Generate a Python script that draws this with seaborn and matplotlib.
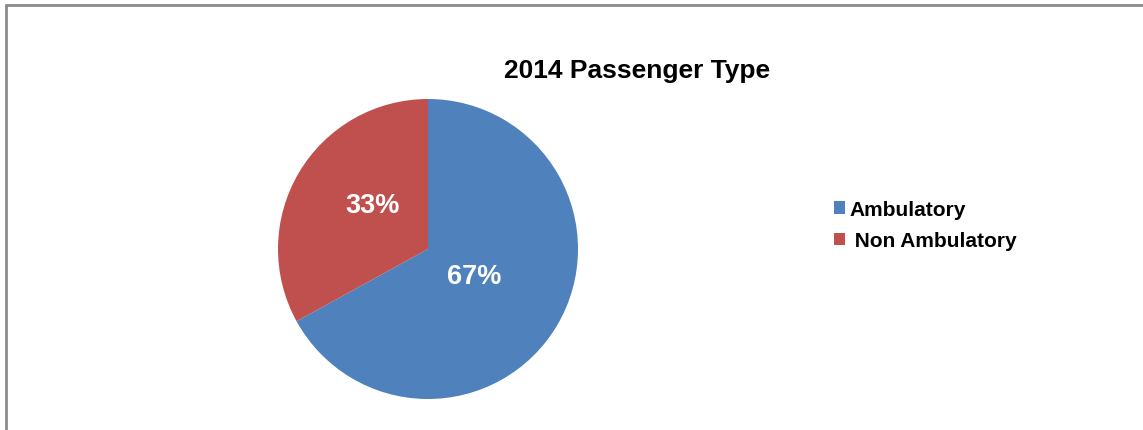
import matplotlib
matplotlib.use("Agg")
import matplotlib.pyplot as plt
import seaborn as sns

# chart data
categories = ["Ambulatory", " Non Ambulatory"]
shares = [67, 33]
colors = ["#4F81BD", "#C0504D"]
title = "2014 Passenger Type"

sns.set_theme(style="white")
plt.rcParams["font.family"] = ["Liberation Sans", "DejaVu Sans"]

fig = plt.figure(figsize=(11.43, 4.31), dpi=100)
fig.patch.set_facecolor("white")

# pie axes placed by pixel position of the reference
ax = fig.add_axes([278 / 1143, 31 / 431, 300 / 1143, 300 / 431])
wedges, texts, autotexts = ax.pie(
    shares,
    colors=colors,
    startangle=90,
    counterclock=False,
    autopct="%d%%",
    pctdistance=0.36,
    textprops=dict(color="white", fontsize=19.5, fontweight="bold"),
    wedgeprops=dict(linewidth=0),
)
autotexts[1].set_position((-0.37, 0.29))
ax.set_xlim(-1, 1)
ax.set_ylim(-1, 1)
ax.set_aspect("equal")

fig.text(637 / 1143, 1 - 71 / 431, title, ha="center", va="center",
         fontsize=19, fontweight="bold", color="black")

leg = fig.legend(
    wedges, categories,
    loc="upper left", bbox_to_anchor=(815 / 1143, 1 - 182 / 431),
    frameon=False, handlelength=0.55, handleheight=0.55,
    handletextpad=0.2, labelspacing=0.6,
    prop=dict(size=15, weight="bold"),
)
for t in leg.get_texts():
    t.set_color("black")

# chart border (top and left visible)
fig.add_artist(plt.Line2D([6 / 1143, 1], [1 - 6 / 431, 1 - 6 / 431],
                          transform=fig.transFigure, color="#8C8C8C", lw=2))
fig.add_artist(plt.Line2D([6 / 1143, 6 / 1143], [0, 1 - 6 / 431],
                          transform=fig.transFigure, color="#8C8C8C", lw=2))

fig.savefig("out.png", dpi=100, facecolor="white")
